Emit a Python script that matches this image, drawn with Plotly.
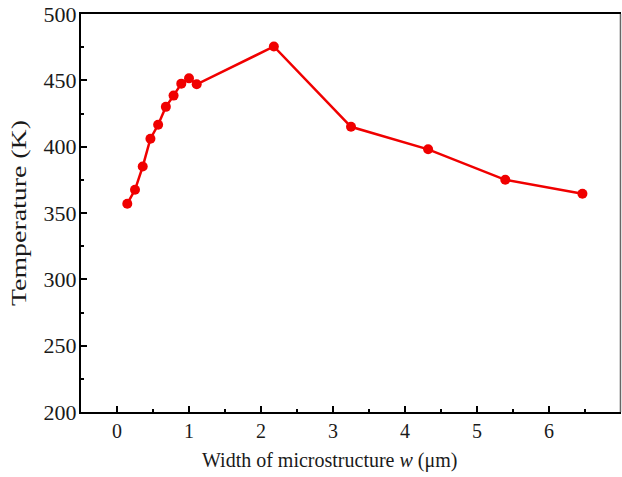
import plotly.graph_objects as go

width_um = [0.1, 0.2, 0.3, 0.4, 0.5, 0.6, 0.7, 0.8, 0.9, 1.0, 2, 3, 4, 5, 6]
temperature_K = [357, 367.5, 385, 406, 416.5, 430, 438.5, 447.5, 451.5, 447, 475.5, 415, 398, 375, 364.5]

x_tick_labels = ["0", "1", "2", "3", "4", "5", "6"]
y_tick_vals = [200, 250, 300, 350, 400, 450, 500]

x_title = "Width of microstructure <i>w</i> (μm)"
y_title = "Temperature (K)"

FONT = "Liberation Serif"
TXT = "#1a1a1a"

# Data axis spans [-0.5, 6.5]; printed tick labels in the source figure are spaced
# as if the axis spanned [-0.5, 7]. Place labels where they appear.
x_lo, x_hi = -0.5, 6.5
label_lo, label_hi = -0.5, 7.0
scale = (x_hi - x_lo) / (label_hi - label_lo)
x_tick_vals = [x_lo + (int(t) - label_lo) * scale for t in x_tick_labels]

fig = go.Figure()
fig.add_trace(go.Scatter(
    x=width_um, y=temperature_K,
    mode="lines+markers",
    line=dict(color="#f00000", width=2.5),
    marker=dict(color="#f00000", size=10),
    showlegend=False,
))

fig.update_layout(
    width=622, height=477,
    margin=dict(l=81, r=1, t=14, b=65),
    paper_bgcolor="white", plot_bgcolor="white",
    font=dict(family=FONT, size=18, color=TXT),
    xaxis=dict(
        range=[x_lo, x_hi], tickmode="array", tickvals=x_tick_vals, ticktext=x_tick_labels,
        ticks="inside", ticklen=6, tickwidth=2, automargin=False,
        tickcolor="black", showline=True, linecolor="black", linewidth=2, mirror=True,
        showgrid=False, zeroline=False,
        minor=dict(tick0=x_tick_vals[0] + 0.5 * scale, dtick=scale, ticks="inside", ticklen=3,
                   tickwidth=2, tickcolor="black", showgrid=False),
        tickfont=dict(family=FONT, size=20, color=TXT),
    ),
    yaxis=dict(
        range=[200, 500], tickvals=y_tick_vals, ticks="inside", ticklen=6, tickwidth=2,
        tickcolor="black", showline=True, linecolor="black", linewidth=2, mirror=False,
        showgrid=False, zeroline=False, automargin=False, ticklabelstandoff=-2,
        minor=dict(dtick=25, ticks="inside", ticklen=3, tickwidth=2, tickcolor="black", showgrid=False),
        tickfont=dict(family=FONT, size=22, color=TXT),
        title=dict(text=y_title, font=dict(family=FONT, size=20, color=TXT), standoff=12),
    ),
    annotations=[dict(text=x_title, xref="paper", yref="paper", x=0.461, y=-0.123,
                      xanchor="center", yanchor="middle", showarrow=False,
                      font=dict(family=FONT, size=20, color=TXT))],
    shapes=[dict(type="line", xref="paper", yref="paper", x0=0.999, x1=0.999, y0=0, y1=1,
                 line=dict(color="#666", width=1.5))],
)

post = """
document.body.style.margin='0';document.body.style.overflow='hidden';
var t = document.querySelector('.ytitle');
if (t) { t.setAttribute('textLength', '186'); t.setAttribute('lengthAdjust', 'spacingAndGlyphs'); }
"""

fig.write_html(
    "out.html",
    config={"responsive": False, "displayModeBar": False},
    post_script=post,
)
